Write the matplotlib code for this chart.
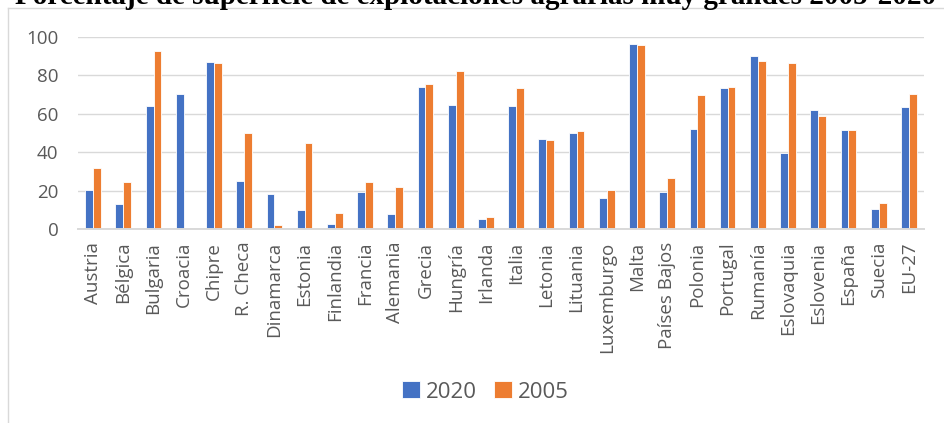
import matplotlib
matplotlib.use("Agg")
import matplotlib.pyplot as plt
import numpy as np
from matplotlib.lines import Line2D

countries = ["Austria", "Bélgica", "Bulgaria", "Croacia", "Chipre", "R. Checa",
             "Dinamarca", "Estonia", "Finlandia", "Francia", "Alemania", "Grecia",
             "Hungría", "Irlanda", "Italia", "Letonia", "Lituania", "Luxemburgo",
             "Malta", "Países Bajos", "Polonia", "Portugal", "Rumanía", "Eslovaquia",
             "Eslovenia", "España", "Suecia", "EU-27"]
v2020 = [20.6, 13.3, 63.8, 70.2, 87.0, 24.9, 18.5, 10.0, 2.8, 19.4, 8.0, 73.7,
         64.5, 5.4, 63.8, 46.7, 49.8, 16.1, 96.2, 19.6, 52.1, 73.2, 90.0, 39.8,
         61.8, 51.4, 10.4, 63.5]
v2005 = [31.7, 24.6, 92.7, 0.0, 86.3, 50.2, 2.2, 44.8, 8.5, 24.7, 22.0, 75.4,
         82.0, 6.6, 73.2, 46.5, 51.0, 20.6, 95.8, 26.6, 69.9, 74.0, 87.4, 86.5,
         59.0, 51.7, 13.5, 70.1]
yticks = [0, 20, 40, 60, 80, 100]
series_labels = ["2020", "2005"]
title = "Porcentaje de superficie de explotaciones agrarias muy grandes 2005-2020"

W, H = 944, 423
fig = plt.figure(figsize=(W / 100, H / 100), dpi=100)

def fx(px):
    return px / W

def fy(py):
    return 1 - py / H

left, right = 78, 924
top, bottom = 36.7, 229.3
ax = fig.add_axes([fx(left), fy(bottom), fx(right - left), (bottom - top) / H])

blue = "#4472C4"
orange = "#ED7D31"
x = np.arange(len(countries))
bw = 0.26
ax.bar(x - bw / 2, v2020, width=bw, color=blue, edgecolor="white", linewidth=0.6,
       label=series_labels[0], zorder=3)
ax.bar(x + bw / 2, v2005, width=bw, color=orange, edgecolor="white", linewidth=0.6,
       label=series_labels[1], zorder=3)

ax.set_xlim(-0.5, len(countries) - 0.5)
ax.set_ylim(0, 100)
ax.set_yticks(yticks)
ax.set_xticks(x)
ax.set_xticklabels(countries, rotation=90, fontfamily="Open Sans", fontsize=13.5,
                   color="#595959")
ax.set_yticklabels([str(t) for t in yticks], fontfamily="Open Sans", fontsize=13.5,
                   color="#595959")
ax.tick_params(axis="y", length=0, pad=14)
ax.tick_params(axis="x", length=0, pad=9)
for s in ["top", "right", "left"]:
    ax.spines[s].set_visible(False)
ax.spines["bottom"].set_color("#D9D9D9")
ax.spines["bottom"].set_linewidth(1.4)
ax.spines["bottom"].set_zorder(4)
ax.yaxis.grid(True, color="#D9D9D9", linewidth=1.0, zorder=0)
ax.set_axisbelow(True)

# chart border
fig.add_artist(Line2D([fx(8), fx(8)], [fy(8.5), fy(H + 5)], color="#D9D9D9", lw=1.0))
fig.add_artist(Line2D([fx(8), fx(W + 5)], [fy(8.5), fy(8.5)], color="#D9D9D9", lw=1.0))

# title
fig.text(fx(15), fy(4), title, fontfamily="Liberation Serif", fontweight="bold",
         fontsize=21, ha="left", va="baseline", color="black")

leg = fig.legend(loc="center", bbox_to_anchor=(fx(485.5), fy(392)), ncol=2,
                 frameon=False, prop={"family": "Open Sans", "size": 16},
                 handlelength=0.8, handleheight=0.8, handletextpad=0.25,
                 columnspacing=0.8)
for t in leg.get_texts():
    t.set_color("#595959")

fig.savefig("out.png", dpi=100)
